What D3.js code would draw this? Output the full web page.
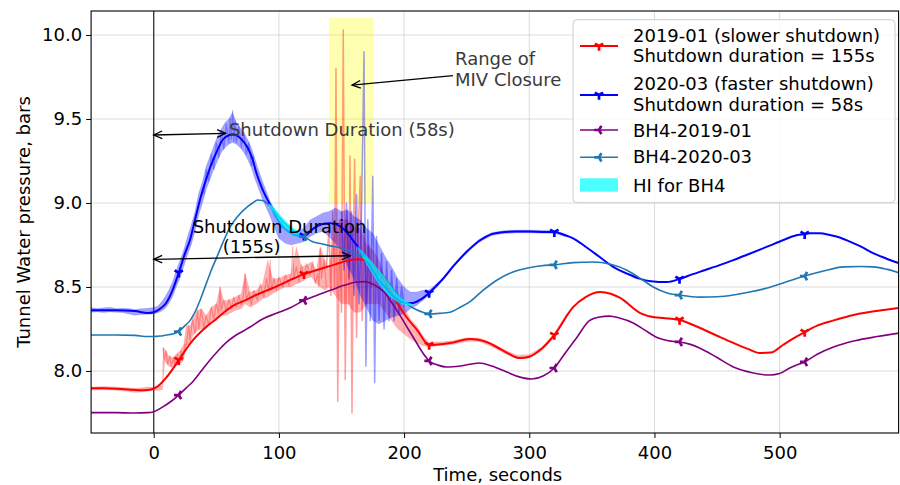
<!DOCTYPE html>
<html><head><meta charset="utf-8">
<script src="https://cdn.jsdelivr.net/npm/d3@7"></script>
<style>body{margin:0;background:#fff} text{font-family:"DejaVu Sans",sans-serif}</style>
</head><body><svg id="c" width="900" height="485"></svg>
<script>
// ---------- data ----------
const xTicks = [0, 100, 200, 300, 400, 500];
const yTicks = [8.0, 8.5, 9.0, 9.5, 10.0];
const markerX = [20, 120, 220, 320, 420, 520];

const redX = [-50,-40,-30,-20,-12,-5,0,5,10,15,20,25,31.5,41,50,58.5,65,73,81,90.5,100,110,120,133,145,157,164,170,175,181,188,194.5,202,210.5,220,236.7,252.6,263,274,283,292.6,300,308.6,320,335,345,356.6,365,372.6,388.6,400,407,420,436.4,450,463,475,484,493,502.6,510,520,530,542.5,560,580,595];
const redY = [7.897,7.897,7.895,7.89,7.885,7.887,7.895,7.92,7.96,8.01,8.065,8.12,8.185,8.256,8.31,8.363,8.395,8.42,8.45,8.48,8.51,8.545,8.577,8.607,8.635,8.66,8.665,8.655,8.625,8.57,8.49,8.405,8.32,8.244,8.155,8.167,8.19,8.18,8.143,8.105,8.077,8.085,8.125,8.214,8.38,8.44,8.47,8.46,8.435,8.345,8.32,8.315,8.304,8.256,8.21,8.167,8.13,8.107,8.11,8.155,8.19,8.232,8.27,8.30,8.335,8.36,8.375];

const blueX = [-50,-30,-15,-5,0,5,10,15,20,25,29,33,37,41,45,50,55,59,63,67,70,75,79,82,87,93,98,103,108,113,120,128,135,141,148,153,158,163,168,174,180,186,192,197,202,207,213,220,230,240,250,261,270,277,290,300,310,320,328,335,345,356,367,378,388,397,410,420,430,440,452,463,475,490,503,512,520,524,532,540,548,556,565,575,585,595];
const blueY = [8.362,8.362,8.357,8.345,8.350,8.370,8.405,8.48,8.585,8.70,8.78,8.90,9.02,9.12,9.21,9.30,9.375,9.40,9.41,9.40,9.38,9.33,9.26,9.18,9.08,8.99,8.915,8.86,8.83,8.81,8.805,8.85,8.875,8.88,8.865,8.835,8.79,8.74,8.68,8.61,8.54,8.49,8.44,8.415,8.405,8.405,8.425,8.465,8.54,8.63,8.71,8.78,8.815,8.825,8.83,8.83,8.828,8.827,8.81,8.79,8.74,8.68,8.62,8.58,8.55,8.535,8.53,8.548,8.575,8.60,8.63,8.66,8.695,8.74,8.78,8.805,8.815,8.82,8.82,8.81,8.795,8.77,8.74,8.70,8.67,8.643];

const bh19X = [-50,-30,-15,-5,0,7,14,20,26,31,38,45,52,58.5,65,72,77,87,98.5,110,120,130,141,152,162.5,168,173,179,184,189,196,202.5,209,215,220,227,234,245,260,270,282,292,302,311,320,328,338,348,356,364,372,383,392,402,411,420,428,436,450,463,478,492,500,508,515,520,530,543,560,578,596];
const bh19Y = [7.752,7.752,7.75,7.752,7.758,7.785,7.82,7.857,7.9,7.935,8.0,8.065,8.125,8.173,8.21,8.24,8.262,8.31,8.345,8.38,8.42,8.45,8.48,8.51,8.53,8.532,8.524,8.50,8.47,8.42,8.34,8.26,8.18,8.107,8.06,8.035,8.024,8.03,8.048,8.03,7.994,7.965,7.952,7.97,8.018,8.10,8.20,8.30,8.322,8.327,8.315,8.286,8.245,8.20,8.18,8.173,8.16,8.137,8.08,8.024,7.99,7.976,7.985,8.018,8.04,8.054,8.10,8.143,8.18,8.205,8.226];

const bh20X = [-50,-30,-15,-5,0,5,10,15,20,25,29,33,37,42,46,50,55,61,67,74.5,79,83,87,90.5,95,101,106,111,115,120,127,134,141,148,154.6,160,165,170,175,180,186,192,199,205,210,215,220,228,236.7,245,253,263,275,287,300,310,320,335,351,365,378,390,399,410,420,436,450,463,476,490,505,520,535,551,565,575,586,596];
const bh20Y = [8.214,8.214,8.212,8.205,8.205,8.208,8.214,8.22,8.235,8.27,8.30,8.35,8.42,8.52,8.60,8.67,8.76,8.857,8.92,8.976,9.0,9.018,9.015,9.0,8.965,8.91,8.87,8.84,8.82,8.80,8.77,8.757,8.745,8.735,8.72,8.705,8.685,8.665,8.635,8.59,8.54,8.48,8.42,8.385,8.365,8.35,8.34,8.343,8.35,8.38,8.415,8.48,8.545,8.59,8.615,8.627,8.632,8.645,8.649,8.635,8.60,8.545,8.50,8.465,8.452,8.44,8.442,8.452,8.47,8.494,8.53,8.565,8.595,8.62,8.622,8.62,8.605,8.583];

// raw (noisy) 2020-03 record: envelope low / high
const rawBlueX  = [-50,-45,-40,-35,-30,-25,-20,-15,-10,-5,0,3,6,9,12,15,18,21,24,27,30,33,36,39,42,45,48,51,54,57,60,63,66,69,72,75,78,81,84,87,90,93,96,100,105,110,115,120,125,130,135,140,145,150,155,160,165,170,175,180,185,190,195,200,205,210,215,220,230,240,250,260,270,280,290,300,310,320,330];
const rawBlueLo = [8.350,8.352,8.348,8.352,8.350,8.348,8.340,8.332,8.336,8.338,8.340,8.345,8.355,8.37,8.40,8.44,8.50,8.55,8.62,8.69,8.75,8.83,8.93,9.00,9.08,9.14,9.20,9.25,9.30,9.33,9.35,9.36,9.35,9.33,9.30,9.26,9.21,9.14,9.08,9.02,8.97,8.92,8.86,8.79,8.76,8.75,8.76,8.77,8.80,8.82,8.83,8.80,8.76,8.72,8.62,8.55,8.45,8.38,8.30,8.28,8.30,8.32,8.33,8.34,8.37,8.39,8.42,8.452,8.532,8.622,8.702,8.767,8.807,8.818,8.822,8.822,8.820,8.819,8.797];
const rawBlueHi = [8.378,8.372,8.376,8.380,8.372,8.374,8.372,8.366,8.370,8.374,8.378,8.385,8.41,8.44,8.48,8.53,8.60,8.66,8.72,8.80,8.87,8.95,9.06,9.13,9.22,9.28,9.34,9.40,9.44,9.48,9.50,9.54,9.48,9.45,9.42,9.38,9.33,9.26,9.19,9.13,9.07,9.01,8.97,8.91,8.87,8.84,8.83,8.85,8.90,8.92,8.94,8.95,8.97,8.95,8.96,8.92,8.90,8.85,8.82,8.75,8.68,8.62,8.55,8.50,8.47,8.47,8.48,8.482,8.548,8.638,8.718,8.785,8.825,8.836,8.840,8.840,8.838,8.837,8.813];
const blueSpikeX = [150,152,154,156,158,160,162,164,166,168,169.5,171,173,175,176.5,178,180,182,184,186,188,190,192,194,196,198,200];
const blueSpikeY = [8.95,8.6,9.0,8.55,8.95,8.45,9.05,8.4,8.95,9.90,8.03,8.9,8.3,9.16,7.93,8.8,8.3,8.7,8.25,8.65,8.3,8.6,8.3,8.55,8.35,8.5,8.38];
const blueTraceX = [40,42,44,46,48,50,52,54,56,58,60,61,62,63,64,65,66,68,70,72,74,76,78,80];
const blueTraceY = [9.05,9.20,9.13,9.29,9.20,9.36,9.27,9.43,9.32,9.47,9.36,9.50,9.38,9.55,9.37,9.49,9.36,9.46,9.33,9.42,9.29,9.36,9.22,9.28];

// raw (noisy) 2019-01 record: envelope low / high
const rawRedX  = [-50,-40,-30,-20,-15,-10,-5,0,5,7,7.5,9,12,15,18,21,24,26,29,32,35,38,42,46,50,53,56,60,65,70,73,77,82,87,91,95,100,105,110,114,118,122,126,130,133,137,140,145,150,155,160,165,170,175,180,185,190,195,200,205,210,215,220,230,240,250,260,270,280,290,300,310,320,330];
const rawRedLo = [7.885,7.888,7.885,7.878,7.872,7.875,7.880,7.885,7.885,7.89,7.95,8.06,8.03,8.02,8.03,8.04,8.07,8.15,8.17,8.22,8.24,8.25,8.25,8.30,8.30,8.33,8.33,8.34,8.36,8.37,8.40,8.38,8.40,8.43,8.44,8.46,8.48,8.50,8.50,8.52,8.53,8.55,8.56,8.52,8.50,8.48,8.50,8.45,8.40,8.40,8.35,8.35,8.40,8.40,8.40,8.35,8.30,8.25,8.22,8.19,8.17,8.15,8.145,8.152,8.160,8.176,8.175,8.145,8.105,8.072,8.077,8.12,8.204,8.32];
const rawRedHi = [7.905,7.908,7.905,7.900,7.898,7.900,7.905,7.905,7.91,7.915,8.14,8.13,8.09,8.08,8.10,8.12,8.16,8.27,8.27,8.32,8.36,8.37,8.33,8.38,8.40,8.50,8.42,8.42,8.44,8.46,8.58,8.47,8.48,8.52,8.66,8.55,8.55,8.57,8.58,8.74,8.62,8.63,8.65,8.60,8.74,8.66,8.60,8.85,8.90,8.90,8.85,8.85,8.75,8.72,8.66,8.55,8.50,8.45,8.38,8.31,8.27,8.21,8.17,8.174,8.182,8.198,8.197,8.167,8.127,8.094,8.099,8.142,8.226,8.342];
const redSpikeX = [138,140,141.5,143,144.5,145.6,147,148.5,150,151.4,153,154.5,156,156.8,158.4,159.5,160.5,162,163.5,165,166.5,168,170,172,174];
const redSpikeY = [8.62,8.85,8.45,8.95,8.5,9.80,7.82,8.9,8.35,10.03,7.95,8.95,8.4,9.28,7.75,8.8,9.26,8.2,8.85,9.16,8.3,8.85,8.4,8.75,8.5];
const redTraceX = [7.5,8.5,10,11,13,14,16,17,19,20,22,23,25,26,28,29,31,33,35,36,38,40,42,44,46,48,50,52,53,54,56,58,60,62,64,66,68,70,72,73,74,76,78,80,83,85,88,90,92,93,94,96,98,100,103,105,108,110,111,112,114,116,118,120,122,125,127,129,131,132,133,134,136,138];
const redTraceY = [8.14,8.07,8.12,8.04,8.09,8.03,8.08,8.02,8.10,8.04,8.12,8.06,8.16,8.15,8.27,8.18,8.31,8.22,8.36,8.25,8.37,8.26,8.33,8.27,8.38,8.31,8.40,8.34,8.50,8.36,8.42,8.35,8.43,8.37,8.44,8.38,8.45,8.39,8.47,8.58,8.42,8.47,8.39,8.48,8.42,8.52,8.44,8.55,8.47,8.66,8.48,8.55,8.48,8.56,8.50,8.57,8.51,8.58,8.74,8.55,8.62,8.53,8.63,8.56,8.64,8.57,8.65,8.52,8.58,8.50,8.73,8.55,8.66,8.50];

// HI for BH4 band (two segments)
const hi1X  = [92,95,98,101,104,107,110,113,116,120];
const hi1Lo = [8.985,8.945,8.905,8.87,8.845,8.827,8.812,8.803,8.80,8.80];
const hi1Hi = [8.995,8.980,8.955,8.928,8.902,8.88,8.86,8.843,8.826,8.812];
const hi2X  = [163,168,173,178,183,188,193,198,203,207];
const hi2Lo = [8.73,8.665,8.60,8.54,8.49,8.45,8.42,8.40,8.392,8.39];
const hi2Hi = [8.74,8.70,8.66,8.615,8.57,8.52,8.47,8.43,8.41,8.395];

const spanX = [140, 175.4];
const spanY = [9.0, 10.103];

// ---------- drawing ----------
const svg = d3.select('#c');
const L = 91.1, R = 898.6, T = 11, B = 433;
const x = d3.scaleLinear().domain([-50, 595]).range([L, R]);
const y = d3.scaleLinear().domain([7.631, 10.143]).range([B, T]);

const defs = svg.append('defs');
defs.append('clipPath').attr('id', 'clip').append('rect')
  .attr('x', L).attr('y', T).attr('width', R - L).attr('height', B - T);

// grid
const grid = svg.append('g');
grid.selectAll('.gx').data(xTicks).enter().append('line')
  .attr('x1', d => x(d)).attr('x2', d => x(d)).attr('y1', T).attr('y2', B)
  .attr('stroke', '#b0b0b0').attr('stroke-opacity', 0.45).attr('stroke-width', 1);
grid.selectAll('.gy').data(yTicks).enter().append('line')
  .attr('y1', d => y(d)).attr('y2', d => y(d)).attr('x1', L).attr('x2', R)
  .attr('stroke', '#b0b0b0').attr('stroke-opacity', 0.45).attr('stroke-width', 1);

const plot = svg.append('g').attr('clip-path', 'url(#clip)');

// yellow span
plot.append('rect')
  .attr('x', x(spanX[0])).attr('width', x(spanX[1]) - x(spanX[0]))
  .attr('y', y(spanY[1])).attr('height', y(spanY[0]) - y(spanY[1]))
  .attr('fill', '#ffff00').attr('fill-opacity', 0.3);

// vertical line at t=0
plot.append('line').attr('x1', x(0)).attr('x2', x(0)).attr('y1', T).attr('y2', B)
  .attr('stroke', '#333').attr('stroke-width', 1.3);

function envelope(xs, lo, hi, color, op, sw) {
  const d = xs.map((v, i) => [v, lo[i], hi[i]]);
  plot.append('path').datum(d)
    .attr('d', d3.area().x(p => x(p[0])).y0(p => y(p[1])).y1(p => y(p[2])))
    .attr('fill', color).attr('fill-opacity', op)
    .attr('stroke', color).attr('stroke-opacity', op * 0.5).attr('stroke-width', sw || 0.6);
}
function poly(xs, ys, color, op, w, curve) {
  const d = xs.map((v, i) => [v, ys[i]]);
  plot.append('path').datum(d)
    .attr('d', d3.line().x(p => x(p[0])).y(p => y(p[1])).curve(curve || d3.curveLinear))
    .attr('fill', 'none').attr('stroke', color).attr('stroke-opacity', op)
    .attr('stroke-width', w).attr('stroke-linejoin', 'round');
}

envelope(rawRedX, rawRedLo, rawRedHi, '#ff0000', 0.3);
poly(redTraceX, redTraceY, '#ff0000', 0.3, 1.2);
poly(redSpikeX, redSpikeY, '#ff0000', 0.38, 1.5);
envelope(rawBlueX, rawBlueLo, rawBlueHi, '#0000ff', 0.36);
poly(blueTraceX, blueTraceY, '#0000ff', 0.3, 1.2);
poly(blueSpikeX, blueSpikeY, '#0000ff', 0.38, 1.5);

poly(redX, redY, '#ff0000', 1, 2, d3.curveMonotoneX);
poly(blueX, blueY, '#0000ff', 1, 2, d3.curveMonotoneX);
poly(bh19X, bh19Y, '#800080', 1, 1.6, d3.curveMonotoneX);
poly(bh20X, bh20Y, '#1f77b4', 1, 1.6, d3.curveMonotoneX);

envelope(hi1X, hi1Lo, hi1Hi, '#00ffff', 0.7, 1);
envelope(hi2X, hi2Lo, hi2Hi, '#00ffff', 0.7, 1);

// markers
const triDown = r => `M0,0L0,${r}M0,0L${-0.866*r},${-0.5*r}M0,0L${0.866*r},${-0.5*r}`;
const triLeft = r => `M0,0L${-r},0M0,0L${0.5*r},${-0.866*r}M0,0L${0.5*r},${0.866*r}`;
function markers(xs, ys, color, shape) {
  const pts = xs.map((v, i) => [v, ys[i]]).filter(p => markerX.includes(p[0]));
  plot.selectAll(null).data(pts).enter().append('path')
    .attr('transform', p => `translate(${x(p[0])},${y(p[1])})`)
    .attr('d', shape(4.8)).attr('fill', 'none').attr('stroke', color).attr('stroke-width', 2.7);
}
markers(redX, redY, '#ff0000', triDown);
markers(blueX, blueY, '#0000ff', triDown);
markers(bh19X, bh19Y, '#800080', triLeft);
markers(bh20X, bh20Y, '#1f77b4', triLeft);

// axes
const xa = svg.append('g').attr('transform', `translate(0,${B})`)
  .call(d3.axisBottom(x).tickValues(xTicks).tickSize(5).tickPadding(8).tickFormat(d3.format('d')));
const ya = svg.append('g').attr('transform', `translate(${L},0)`)
  .call(d3.axisLeft(y).tickValues(yTicks).tickSize(5).tickPadding(4).tickFormat(d3.format('.1f')));
[xa, ya].forEach(a => {
  a.select('.domain').remove();
  a.selectAll('text').attr('font-size', 18).attr('fill', '#000').attr('font-family', '"DejaVu Sans", sans-serif');
  a.selectAll('line').attr('stroke', '#000').attr('stroke-width', 1);
});

// frame
svg.append('rect').attr('x', L).attr('y', T).attr('width', R - L).attr('height', B - T)
  .attr('fill', 'none').attr('stroke', '#000').attr('stroke-width', 1.1);

// axis labels
svg.append('text').attr('x', 497.7).attr('y', 481).attr('text-anchor', 'middle')
  .attr('font-size', 18).text('Time, seconds');
svg.append('text').attr('transform', 'translate(30,222) rotate(-90)').attr('text-anchor', 'middle')
  .attr('font-size', 18).text('Tunnel Water pressure, bars');

// annotations
function arrow(x1, y1, x2, y2, both) {
  const p1 = [x(x1), y(y1)], p2 = [x(x2), y(y2)];
  const g = svg.append('g').attr('stroke', '#000').attr('stroke-width', 1.3).attr('fill', 'none');
  g.append('line').attr('x1', p1[0]).attr('y1', p1[1]).attr('x2', p2[0]).attr('y2', p2[1]);
  const head = (tip, from) => {
    const a = Math.atan2(from[1] - tip[1], from[0] - tip[0]);
    const hl = 8.5, hw = 3.8;
    const bx = tip[0] + hl * Math.cos(a), by = tip[1] + hl * Math.sin(a);
    const nx = -Math.sin(a) * hw, ny = Math.cos(a) * hw;
    g.append('path').attr('d', `M${bx + nx},${by + ny}L${tip[0]},${tip[1]}L${bx - nx},${by - ny}`);
  };
  head(p2, p1);
  if (both) head(p1, p2);
}
arrow(0, 9.405, 57.5, 9.415, true);
svg.append('text').attr('x', x(60.1)).attr('y', y(9.399)).attr('font-size', 18).attr('fill', '#3a3a3a')
  .text('Shutdown Duration (58s)');
arrow(0, 8.665, 157, 8.686, true);
svg.append('text').attr('x', x(31.1)).attr('y', y(8.819)).attr('font-size', 18).attr('fill', '#000')
  .text('Shutdown Duration');
svg.append('text').attr('x', x(55.1)).attr('y', y(8.70)).attr('font-size', 18).attr('fill', '#000')
  .text('(155s)');
arrow(239, 9.758, 158.4, 9.702, false);
svg.append('text').attr('x', x(240.7)).attr('y', y(9.821)).attr('font-size', 18).attr('fill', '#3a3a3a')
  .text('Range of');
svg.append('text').attr('x', x(240.7)).attr('y', y(9.696)).attr('font-size', 18).attr('fill', '#3a3a3a')
  .text('MIV Closure');

// legend
const lg = svg.append('g');
lg.append('rect').attr('x', 573).attr('y', 19.7).attr('width', 322).attr('height', 183).attr('rx', 4)
  .attr('fill', '#fff').attr('fill-opacity', 0.8).attr('stroke', '#cccccc').attr('stroke-width', 1);
const legendItems = [
  {c: '#ff0000', w: 2, m: triDown, ly: 46, lines: ['2019-01 (slower shutdown)', 'Shutdown duration = 155s'], ty: [41.7, 62.3]},
  {c: '#0000ff', w: 2, m: triDown, ly: 95, lines: ['2020-03 (faster shutdown)', 'Shutdown duration = 58s'], ty: [90, 110.6]},
  {c: '#800080', w: 1.6, m: triLeft, ly: 130, lines: ['BH4-2019-01'], ty: [136.7]},
  {c: '#1f77b4', w: 1.6, m: triLeft, ly: 157.3, lines: ['BH4-2020-03'], ty: [163.3]},
];
legendItems.forEach(it => {
  lg.append('line').attr('x1', 580).attr('x2', 618).attr('y1', it.ly).attr('y2', it.ly)
    .attr('stroke', it.c).attr('stroke-width', it.w);
  lg.append('path').attr('transform', `translate(599,${it.ly})`).attr('d', it.m(4.8))
    .attr('fill', 'none').attr('stroke', it.c).attr('stroke-width', 2.7);
  it.lines.forEach((t, i) => lg.append('text').attr('x', 633).attr('y', it.ty[i]).attr('font-size', 18).text(t));
});
lg.append('rect').attr('x', 580).attr('y', 178.3).attr('width', 38).attr('height', 13.4)
  .attr('fill', '#00ffff').attr('fill-opacity', 0.7);
lg.append('text').attr('x', 633).attr('y', 191.7).attr('font-size', 18).text('HI for BH4');
</script></body></html>
